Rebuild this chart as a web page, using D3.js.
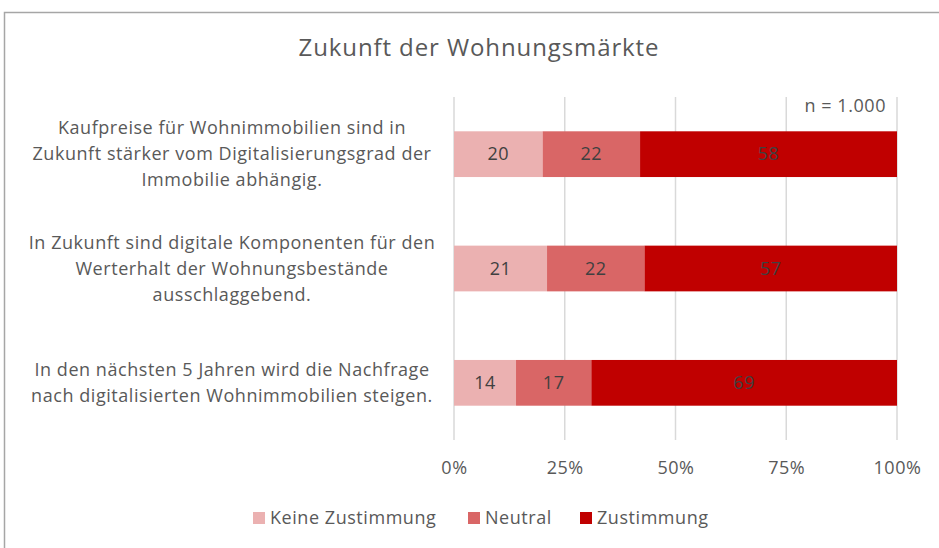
<!DOCTYPE html>
<html><head><meta charset="utf-8">
<script src="https://cdn.jsdelivr.net/npm/d3@7"></script>
<style>body{margin:0;background:#fff}svg{display:block;font-family:"Open Sans",sans-serif}</style>
</head><body><svg id="c" width="939" height="548"></svg>
<script>
const title = "Zukunft der Wohnungsmärkte";
const categories = [
  ["Kaufpreise für Wohnimmobilien sind in","Zukunft stärker vom Digitalisierungsgrad der","Immobilie abhängig."],
  ["In Zukunft sind digitale Komponenten für den","Werterhalt der Wohnungsbestände","ausschlaggebend."],
  ["In den nächsten 5 Jahren wird die Nachfrage","nach digitalisierten Wohnimmobilien steigen."]
];
const seriesNames = ["Keine Zustimmung","Neutral","Zustimmung"];
const keineZustimmung = [20,21,14];
const neutral = [22,22,17];
const zustimmung = [58,57,69];
const tickValues = [0,25,50,75,100];
const colors = ["#EBB1B1","#D96666","#C00000"];
const note = "n = 1.000";

const FF = "'Open Sans',sans-serif";
const FS = 18, LS = 0.55;
const svg = d3.select("#c");
svg.append("rect").attr("x",4.5).attr("y",12.5).attr("width",960).attr("height",560)
  .attr("fill","#fff").attr("stroke","#a6a6a6").attr("stroke-width",1.5);

const x = d3.scaleLinear().domain([0,100]).range([454,897]);
const y = d3.scaleBand().domain(d3.range(categories.length)).range([97,440]).paddingInner(0.6).paddingOuter(0.3);

svg.append("g").selectAll("line").data(tickValues).join("line")
  .attr("x1",d=>x(d)).attr("x2",d=>x(d)).attr("y1",97).attr("y2",440)
  .attr("stroke","#d9d9d9").attr("stroke-width",1.5);

const rows = categories.map((c,i)=>{
  const vals=[keineZustimmung[i],neutral[i],zustimmung[i]];
  let acc=0; return vals.map((v,k)=>{const s={i,k,x0:acc,x1:acc+v,v};acc+=v;return s;});
}).flat();

svg.append("g").selectAll("rect").data(rows).join("rect")
  .attr("x",d=>x(d.x0)).attr("width",d=>x(d.x1)-x(d.x0))
  .attr("y",d=>y(d.i)).attr("height",y.bandwidth()).attr("fill",d=>colors[d.k]);

svg.append("g").selectAll("text").data(rows).join("text")
  .attr("x",d=>x((d.x0+d.x1)/2)).attr("y",d=>y(d.i)+y.bandwidth()/2)
  .attr("dy","0.35em").attr("text-anchor","middle").attr("font-size",FS).attr("letter-spacing",LS)
  .attr("fill","#404040").text(d=>d.v);

const ax = svg.append("g").attr("transform","translate(0,440)")
  .call(d3.axisBottom(x).tickValues(tickValues).tickFormat(d=>d+"%").tickSize(0).tickPadding(21));
ax.select(".domain").remove();
ax.selectAll("text").attr("font-size",FS).attr("letter-spacing",LS).attr("fill","#595959").attr("font-family",FF);

categories.forEach((lines,i)=>{
  const cy = y(i)+y.bandwidth()/2;
  const lh = 26;
  const t = svg.append("text").attr("text-anchor","middle").attr("font-size",FS).attr("letter-spacing",LS).attr("fill","#595959");
  lines.forEach((l,j)=>{
    t.append("tspan").attr("x",232).attr("y",cy+(j-(lines.length-1)/2)*lh).attr("dy","0.35em").text(l);
  });
});

svg.append("text").attr("x",479).attr("y",48).attr("dy","0.35em").attr("text-anchor","middle").attr("font-size",24)
  .attr("letter-spacing",0.9).attr("fill","#595959").text(title);

svg.append("text").attr("x",886).attr("y",106).attr("dy","0.35em").attr("text-anchor","end").attr("font-size",FS)
  .attr("letter-spacing",LS).attr("fill","#595959").text(note);

const legX=[253,468,580];
const lg = svg.append("g").selectAll("g").data(seriesNames).join("g")
  .attr("transform",(d,i)=>`translate(${legX[i]},518)`);
lg.append("rect").attr("x",0).attr("y",-6).attr("width",12).attr("height",12).attr("fill",(d,i)=>colors[i]);
lg.append("text").attr("x",17).attr("dy","0.35em").attr("font-size",FS).attr("letter-spacing",LS).attr("fill","#595959").text(d=>d);
</script></body></html>
